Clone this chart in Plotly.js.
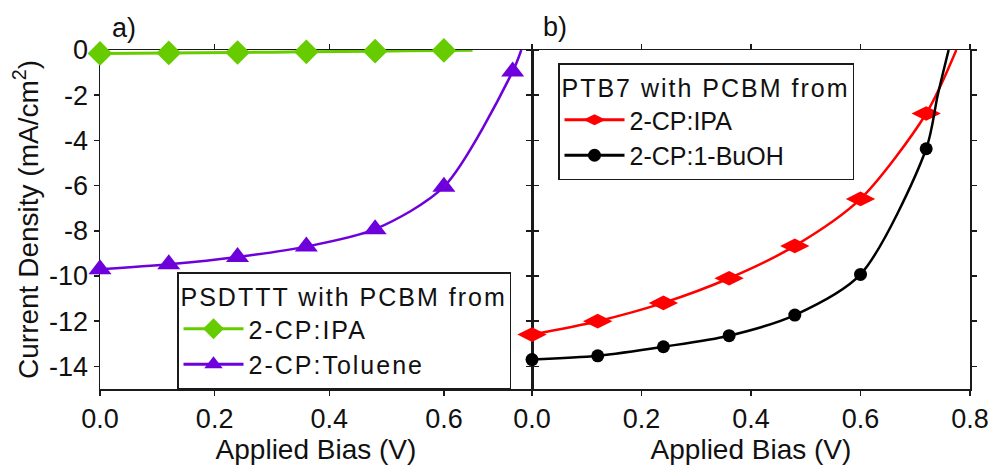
<!DOCTYPE html>
<html>
<head>
<meta charset="utf-8">
<script src="https://cdn.plot.ly/plotly-3.0.1.min.js"></script>
<style>
html,body{margin:0;padding:0;background:#fff}
#chart{width:994px;height:473px}
text.legendtext, text.legendtitletext, text.legend2titletext { letter-spacing: 2px; }
</style>
</head>
<body>
<div id="chart"></div>
<script>
// ---- data ----
const bias = [0, 0.12, 0.24, 0.36, 0.48, 0.60, 0.72];

// panel a) PSDTTT with PCBM
const psdtttIpa = [-0.15, -0.13, -0.11, -0.08, -0.05, -0.02];
const psdtttIpaTailV = [0.65];
const psdtttIpaTailJ = [-0.01];
const psdtttTol = [-9.70, -9.48, -9.16, -8.70, -7.93, -6.05, -0.95];
const psdtttTolTailV = [0.735];
const psdtttTolTailJ = [0];

// panel b) PTB7 with PCBM
const ptb7Ipa = [-12.59, -12.00, -11.19, -10.10, -8.67, -6.59, -2.81];
const ptb7IpaTailV = [0.775];
const ptb7IpaTailJ = [0];
const ptb7Bu = [-13.70, -13.53, -13.13, -12.64, -11.73, -9.93, -4.37];
const ptb7BuTailV = [0.741, 0.761];
const ptb7BuTailJ = [-2.0, 0];

const yTickVals = [-14, -12, -10, -8, -6, -4, -2, 0];
const yTickText = ['-14', '-12', '-10', '-8', '-6', '-4', '-2', '0'];
const xTickValsA = [0, 0.2, 0.4, 0.6];
const xTickTextA = ['0.0', '0.2', '0.4', '0.6'];
const xTickValsB = [0, 0.2, 0.4, 0.6, 0.8];
const xTickTextB = ['0.0', '0.2', '0.4', '0.6', '0.8'];

const seriesNames = ['2-CP:IPA', '2-CP:Toluene', '2-CP:IPA', '2-CP:1-BuOH'];
const legendTitles = ['PSDTTT with PCBM from', 'PTB7 with PCBM from'];
const xTitle = 'Applied Bias (V)';
const yTitle = 'Current Density (mA/cm<sup>2</sup>)';
const panelLabels = ['a)', 'b)'];

// ---- styling ----
const FONT = 'Liberation Sans, Arial, Helvetica, sans-serif';
const specs = [
  {vals: psdtttIpa, tv: psdtttIpaTailV, tj: psdtttIpaTailJ, color: '#66cc00', symbol: 'diamond', size: 19, xa: 'x', ya: 'y', leg: 'legend', name: seriesNames[0], lw: 3},
  {vals: psdtttTol, tv: psdtttTolTailV, tj: psdtttTolTailJ, color: '#6e00dc', symbol: 'triangle-up', size: 20, xa: 'x', ya: 'y', leg: 'legend', name: seriesNames[1], lw: 2.5},
  {vals: ptb7Ipa, tv: ptb7IpaTailV, tj: ptb7IpaTailJ, color: '#ff0000', symbol: 'diamond-wide', size: 21, xa: 'x2', ya: 'y2', leg: 'legend2', name: seriesNames[2], lw: 2.5},
  {vals: ptb7Bu, tv: ptb7BuTailV, tj: ptb7BuTailJ, color: '#000000', symbol: 'circle', size: 13, xa: 'x2', ya: 'y2', leg: 'legend2', name: seriesNames[3], lw: 2.5}
];

const traces = [];
specs.forEach(s => {
  const vx = bias.slice(0, s.vals.length);
  traces.push({
    type: 'scatter', mode: 'lines', x: vx.concat(s.tv), y: s.vals.concat(s.tj),
    xaxis: s.xa, yaxis: s.ya, showlegend: false, hoverinfo: 'skip',
    line: {color: s.color, width: s.lw, shape: 'spline', smoothing: 0.8}
  });
  traces.push({
    type: 'scatter', mode: 'markers', x: vx, y: s.vals,
    xaxis: s.xa, yaxis: s.ya, showlegend: false, cliponaxis: false,
    marker: {color: s.color, symbol: s.symbol, size: s.size, line: {width: 0}}
  });
  traces.push({
    type: 'scatter', mode: 'lines+markers', x: [null], y: [null], name: s.name,
    xaxis: s.xa, yaxis: s.ya, legend: s.leg, showlegend: true,
    line: {color: s.color, width: 3},
    marker: {color: s.color, symbol: s.symbol, size: Math.min(s.size, 16), line: {width: 0}}
  });
});

const LC = '#1a1a1a';
const splitA = 432 / 870;
const baseAx = {
  showline: true, linecolor: LC, linewidth: 1.5, mirror: 'ticks', ticks: 'outside', ticklen: 5,
  tickwidth: 1.5, tickcolor: LC, showgrid: false, zeroline: false, layer: 'below traces',
  tickfont: {family: FONT, size: 27, color: '#111'}
};
const overlayAx = {
  showline: false, mirror: 'ticks', ticks: 'inside', ticklen: 5, tickwidth: 1.5, tickcolor: LC,
  showgrid: false, zeroline: false, showticklabels: false, layer: 'below traces'
};
const xTitleObj = {text: xTitle, font: {family: FONT, size: 28, color: '#111'}, standoff: 4};
const legFont = {family: FONT, size: 25, color: '#111'};

const layout = {
  width: 994, height: 473,
  margin: {l: 100, r: 24, t: 50, b: 84},
  paper_bgcolor: '#fff', plot_bgcolor: '#fff',
  font: {family: FONT, color: '#111'},
  showlegend: true,
  xaxis: Object.assign({}, baseAx, {domain: [0, splitA], range: [0, 0.7537], anchor: 'y',
    tickvals: xTickValsA, ticktext: xTickTextA, title: xTitleObj}),
  yaxis: Object.assign({}, baseAx, {domain: [0, 1], range: [-15, 0], anchor: 'x',
    tickvals: yTickVals, ticktext: yTickText,
    title: {text: yTitle, font: {family: FONT, size: 28, color: '#111'}, standoff: 2}}),
  xaxis2: Object.assign({}, baseAx, {domain: [splitA, 1], range: [0, 0.8], anchor: 'y2',
    tickvals: xTickValsB, ticktext: xTickTextB, title: xTitleObj}),
  yaxis2: Object.assign({}, baseAx, {domain: [0, 1], range: [-15, 0], anchor: 'x2',
    tickvals: yTickVals, showticklabels: false}),
  xaxis3: Object.assign({}, overlayAx, {overlaying: 'x', anchor: 'y', domain: [0, splitA], range: [0, 0.7537], tickvals: xTickValsA}),
  yaxis3: Object.assign({}, overlayAx, {overlaying: 'y', anchor: 'x', range: [-15, 0], tickvals: yTickVals}),
  xaxis4: Object.assign({}, overlayAx, {overlaying: 'x2', anchor: 'y2', domain: [splitA, 1], range: [0, 0.8], tickvals: xTickValsB}),
  yaxis4: Object.assign({}, overlayAx, {overlaying: 'y2', anchor: 'x2', range: [-15, 0], tickvals: yTickVals}),
  legend: {
    x: (177 - 100) / 870, y: (389 - 272) / 339, xanchor: 'left', yanchor: 'top',
    bgcolor: '#fff', bordercolor: LC, borderwidth: 1.5,
    font: legFont, itemwidth: 60,
    title: {text: legendTitles[0], side: 'top', font: legFont},
    tracegroupgap: 0, itemsizing: 'trace'
  },
  legend2: {
    x: (558 - 100) / 870, y: (389 - 63) / 339, xanchor: 'left', yanchor: 'top',
    bgcolor: '#fff', bordercolor: LC, borderwidth: 1.5,
    font: legFont, itemwidth: 60,
    title: {text: legendTitles[1], side: 'top', font: legFont},
    tracegroupgap: 0, itemsizing: 'trace'
  },
  annotations: [
    {text: panelLabels[0], xref: 'paper', yref: 'paper', x: (124 - 100) / 870, y: (389 - 28) / 339,
     xanchor: 'center', yanchor: 'middle', showarrow: false, font: {family: FONT, size: 27, color: '#111'}},
    {text: panelLabels[1], xref: 'paper', yref: 'paper', x: (555 - 100) / 870, y: (389 - 27) / 339,
     xanchor: 'center', yanchor: 'middle', showarrow: false, font: {family: FONT, size: 27, color: '#111'}}
  ]
};

Plotly.newPlot('chart', traces, layout, {staticPlot: true, displayModeBar: false});
</script>
</body>
</html>
